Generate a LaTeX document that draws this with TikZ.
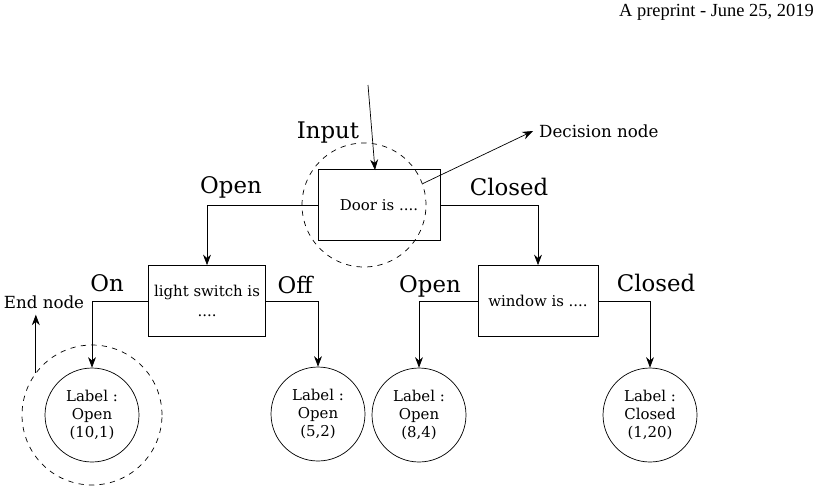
\documentclass[tikz,border=0pt]{standalone}
\usepackage{fontspec}
\setmainfont{DejaVu Serif}
\newfontfamily\headfont{Liberation Serif}
\usetikzlibrary{arrows.meta, positioning, calc}

\begin{document}
\begin{tikzpicture}[
    x=0.02cm, y=-0.02cm,
    % Node styles
    question/.style={
        rectangle,
        draw,
        minimum width=#1,
        minimum height=1.42cm,
        align=center,
        font=\fontsize{8.5}{11}\selectfont
    },
    leaf/.style={
        circle,
        draw,
        minimum size=1.88cm,
        inner sep=0pt,
        align=center,
        font=\fontsize{8.5}{10.5}\selectfont
    },
    ring/.style={
        circle,
        draw,
        dashed,
        minimum size=#1,
        inner sep=0pt
    },
    branch/.style={
        font=\fontsize{13}{15}\selectfont
    },
    arrow/.style={
        -{Stealth[length=6pt]},
        thin
    }
]
\useasboundingbox (0,0) rectangle (830,501);

% Header
\node[anchor=east, font=\headfont\fontsize{10.5}{12}\selectfont] (head) at (820,12) {A \textsc{preprint} - J\textsc{une} 25, 2019};

% Position nodes
\node[question=2.44cm] (door) at (379,205) {Door is ....};
\node[question=2.32cm] (light) at (207,301) {light switch is\\....};
\node[question=2.4cm] (window) at (538,301) {window is ....};

\node[leaf] (open1) at (92,415) {Label :\\Open\\(10,1)};
\node[leaf] (open2) at (318,414) {Label :\\Open\\(5,2)};
\node[leaf] (open3) at (419,415) {Label :\\Open\\(8,4)};
\node[leaf] (closed) at (650,415) {Label :\\Closed\\(1,20)};

\node[ring=2.48cm] (decring) at (364,205) {};
\node[ring=2.8cm] (endring) at (92,415) {};

\node[branch] (input) at (328,133) {Input};
\node[branch] (dooropen) at (231,187) {Open};
\node[branch] (doorclosed) at (509,187) {Closed};
\node[branch] (on) at (107,283) {On};
\node[branch] (off) at (295,285) {Off};
\node[branch] (winopen) at (430,286) {Open};
\node[branch] (winclosed) at (656,283) {Closed};

\node[anchor=west, font=\fontsize{9.5}{11}\selectfont] (dectext) at (533,131) {Decision node};
\node[font=\fontsize{9.5}{11}\selectfont] (endtext) at (44,302) {End node};

\coordinate (start) at (368,85);
\coordinate (startend) at (375,170);

% Connectors
\draw[arrow] (start) -- (startend);
\draw[arrow] (decring.20) -- (dectext.west);
\draw[arrow] (endring.143) -- (endring.143 |- endtext.south);

\draw[arrow] (door.west) -| (light.north);
\draw[arrow] (door.east) -| (window.north);
\draw[arrow] (light.west) -| (open1.north);
\draw[arrow] (light.east) -| (open2.north);
\draw[arrow] (window.west) -| (open3.north);
\draw[arrow] (window.east) -| (closed.north);

\end{tikzpicture}
\end{document}
